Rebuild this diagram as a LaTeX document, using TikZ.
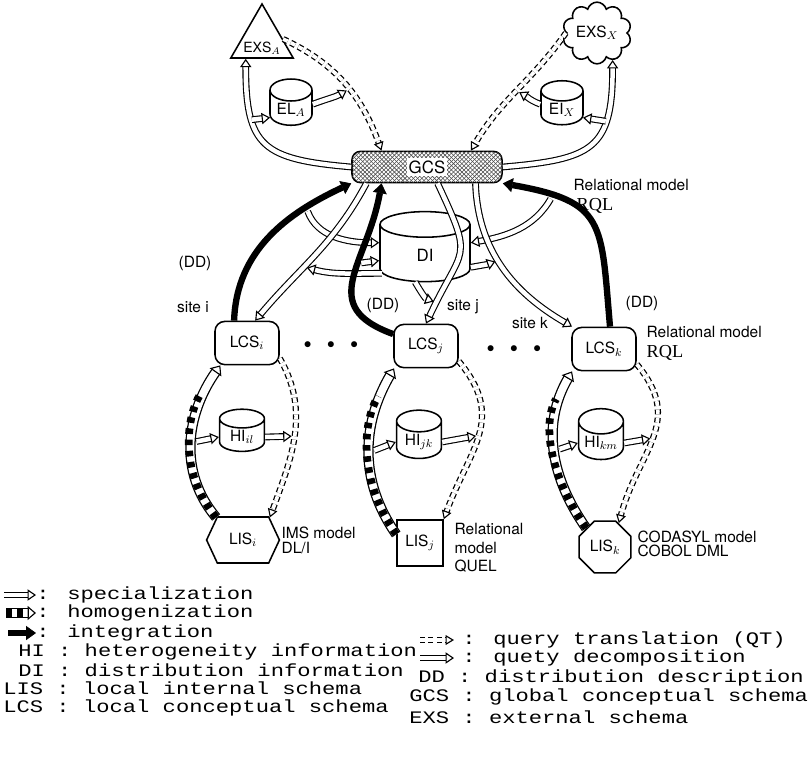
\documentclass[tikz,border=0pt]{standalone}
\usepackage{fontspec}
\usepackage{tikz}
\newfontfamily\lblfont{TeX Gyre Heros}
\newfontfamily\rqlfont{Liberation Serif}
\newfontfamily\lgdfont[FakeStretch=1.26]{Liberation Mono}
\usetikzlibrary{shapes.geometric,shapes.symbols,arrows.meta,calc,patterns,positioning}
\tikzset{SCHEMA/.style={draw,line width=1.1pt,font=\lblfont\fontsize{11}{12}\selectfont,inner sep=1pt}}
\tikzset{LCS/.style={SCHEMA,rectangle,rounded corners=7pt,minimum width=1.6cm,minimum height=1.08cm}}
\tikzset{INFO/.style={SCHEMA,cylinder,shape border rotate=90,aspect=0.7,minimum width=1.12cm,minimum height=1cm}}
\tikzset{SPEC/.style={draw,double,double distance=3.2pt,line width=0.8pt,-{Triangle[open,length=6pt,width=8pt,line width=0.8pt]}}}
\tikzset{QT/.style={draw,double,double distance=2.6pt,line width=0.9pt,dash pattern=on 3.5pt off 2.5pt,-{Triangle[open,length=6pt,width=7pt,line width=0.8pt]}}}
\tikzset{INTEG/.style={draw,line width=4.5pt,-{Triangle[length=7pt,width=10pt,line width=0.5pt]}}}
\tikzset{HOMOG/.style={draw,double,double distance=5.5pt,line width=0.9pt,-{Triangle[open,length=6pt,width=10pt,line width=0.8pt]},postaction={draw,-,line width=5.5pt,dash pattern=on 4pt off 4pt,shorten >=#1}},HOMOG/.default=0.8cm}
\tikzset{LABEL/.style={font=\lblfont\fontsize{11}{12}\selectfont,inner sep=1pt}}
\tikzset{RQL/.style={font=\rqlfont\fontsize{13}{14}\selectfont,inner sep=1pt,anchor=west}}
\tikzset{LEGEND/.style={font=\lgdfont\fontsize{12.5}{13}\selectfont,inner sep=0pt,anchor=west}}

\begin{document}
\begin{tikzpicture}[x=0.025cm,y=-0.025cm]
\useasboundingbox (0,0) rectangle (809,769);

% external level
\node[SCHEMA,regular polygon,regular polygon sides=3,minimum size=1.8cm,inner sep=0pt,label={[name=n_exsA_txt,LABEL,font=\lblfont\fontsize{10}{11}\selectfont,yshift=-6pt]center:EXS$_A$}] (n_exsA) at (262,40) {};
\node[SCHEMA,cloud,cloud puffs=10,aspect=1.2,minimum width=1.65cm,minimum height=1.4cm,inner sep=0pt] (n_exsX) at (597,33) {EXS$_X$};
\node[INFO,minimum width=1.05cm,minimum height=1.08cm] (n_elA) at (291,110) {EL$_A$};
\node[INFO,minimum width=1.05cm,minimum height=1.1cm] (n_eiX) at (562,110) {EI$_X$};

% global level
\node[SCHEMA,rectangle,rounded corners=6pt,minimum width=3.75cm,minimum height=0.78cm,pattern=north east lines,pattern color=black!70,postaction={pattern=north west lines,pattern color=black!70},font=\lblfont\fontsize{12}{13}\selectfont] (n_gcs) at (427,167) {\setlength{\fboxsep}{1.5pt}\colorbox{white}{GCS}};
\node[INFO,aspect=1.3,minimum width=2.25cm,minimum height=1.75cm,font=\lblfont\fontsize{12}{13}\selectfont] (n_di) at (425,255) {DI};
\node[LABEL,anchor=west] (l_rel_g) at (572,185) {Relational model};
\node[RQL] (l_rql_g) at (575,206) {RQL};

% local level
\node[LCS] (n_lcsI) at (247,343) {LCS$_i$};
\node[LCS] (n_lcsJ) at (426,346) {LCS$_j$};
\node[LCS] (n_lcsK) at (604,349) {LCS$_k$};
\node[LABEL] (n_dots_ij) at (331,345) {$\bullet$\quad$\bullet$\quad$\bullet$};
\node[LABEL] (n_dots_jk) at (514,349) {$\bullet$\quad$\bullet$\quad$\bullet$};
\node[INFO] (n_hiI) at (242,437) {HI$_{il}$};
\node[INFO] (n_hiJ) at (419,442) {HI$_{jk}$};
\node[INFO] (n_hiK) at (601,443) {HI$_{km}$};
\node[SCHEMA,signal,signal to=east and west,signal pointer angle=130,minimum width=1.82cm,minimum height=1.15cm] (n_lisI) at (243,540) {LIS$_i$};
\node[SCHEMA,rectangle,minimum size=1.15cm] (n_lisJ) at (420,543) {LIS$_j$};
\node[SCHEMA,regular polygon,regular polygon sides=8,minimum size=1.4cm,inner sep=0pt] (n_lisK) at (605,547) {LIS$_k$};

\node[LABEL] (l_dd_i) at (195,263) {(DD)};
\node[LABEL] (l_site_i) at (193,307) {site i};
\node[LABEL] (l_dd_j) at (383,305) {(DD)};
\node[LABEL] (l_site_j) at (463,307) {site j};
\node[LABEL] (l_site_k) at (530,323) {site k};
\node[LABEL] (l_dd_k) at (642,303) {(DD)};
\node[LABEL,anchor=west] (l_rel_k) at (645,332) {Relational model};
\node[RQL] (l_rql_k) at (645,353) {RQL};
\node[LABEL,anchor=west,align=left,font=\lblfont\fontsize{11}{10.6}\selectfont] (l_ims) at (280,540) {IMS model\\DL/I};
\node[LABEL,anchor=west,align=left,font=\lblfont\fontsize{11}{13}\selectfont] (l_quel) at (453,548) {Relational\\model\\QUEL};
\node[LABEL,anchor=west,align=left,font=\lblfont\fontsize{11}{9.5}\selectfont] (l_codasyl) at (636,544) {CODASYL model\\COBOL DML};

% anchor points
\coordinate (c_exsA_r) at ($(n_exsA.corner 1)!0.65!(n_exsA.corner 3)$);
\coordinate (c_exsA_b) at ($(n_exsA.corner 2)!0.25!(n_exsA.corner 3)$);
\coordinate (c_gcs_t1) at ($(n_gcs.north west)!0.2!(n_gcs.north east)$);
\coordinate (c_gcs_t2) at ($(n_gcs.north west)!0.79!(n_gcs.north east)$);
\coordinate (c_gcs_b1) at ($(n_gcs.south west)!0.1!(n_gcs.south east)$);
\coordinate (c_gcs_b2) at ($(n_gcs.south west)!0.2!(n_gcs.south east)$);
\coordinate (c_gcs_b3) at ($(n_gcs.south west)!0.57!(n_gcs.south east)$);
\coordinate (c_gcs_b4) at ($(n_gcs.south west)!0.82!(n_gcs.south east)$);

% external schemas
\draw[QT] (c_exsA_r) to[out=-25,in=110] coordinate[pos=0.55] (c_qt_a) (c_gcs_t1);
\draw[SPEC] (n_gcs.west) to[out=175,in=-90,looseness=1.5] coordinate[pos=0.7] (c_sp_a) (c_exsA_b);
\draw[SPEC] (c_sp_a) -- (n_elA.200);
\draw[SPEC,shorten >=2pt] (n_elA.15) to[out=20,in=-150] (c_qt_a);

\draw[QT] (n_exsX.west) to[out=-125,in=60] coordinate[pos=0.5] (c_qt_x) (c_gcs_t2);
\draw[SPEC] (n_gcs.east) to[out=5,in=-90,looseness=1.5] coordinate[pos=0.7] (c_sp_x) (n_exsX.-60);
\draw[SPEC] (c_sp_x) -- (n_eiX.-20);
\draw[SPEC,shorten >=2pt] (n_eiX.165) to[out=160,in=-30] (c_qt_x);

% integration and decomposition
\draw[INTEG] (n_lcsI.120) to[out=88,in=-155] coordinate[pos=0.75] (c_dd_i) (n_gcs.south west);
\draw[SPEC,shorten <=3pt] (c_dd_i) to[out=-70,in=180] (n_di.165);
\draw[SPEC] (c_gcs_b1) to[out=-118,in=50] coordinate[pos=0.6] (c_qd_i) (n_lcsI.70);
\draw[SPEC,shorten >=2pt] (n_di.203) to[out=180,in=-15] (c_qd_i);

\draw[INTEG] (n_lcsJ.160) to[out=160,in=-100,looseness=1.4] coordinate[pos=0.6] (c_dd_j) (c_gcs_b2);
\draw[SPEC,shorten <=3pt] (c_dd_j) -- (n_di.187);
\draw[SPEC] (c_gcs_b3) to[out=-65,in=65,looseness=1.6] coordinate[pos=0.9] (c_qd_j) (n_lcsJ.north);
\draw[SPEC,shorten >=2pt] (n_di.-110) to[out=-60,in=160] (c_qd_j);

\draw[INTEG] (n_lcsK.75) to[out=95,in=-10,looseness=1.5] coordinate[pos=0.8] (c_dd_k) (n_gcs.south east);
\draw[SPEC,shorten <=3pt] (c_dd_k) to[out=-120,in=10] (n_di.15);
\draw[SPEC] (c_gcs_b4) to[out=-88,in=150] coordinate[pos=0.45] (c_qd_k) (n_lcsK.145);
\draw[SPEC,shorten >=2pt] (n_di.-15) to[out=10,in=-160] (c_qd_k);

% site i
\draw[HOMOG] (n_lisI.140) to[out=130,in=-125] coordinate[pos=0.5] (c_hg_i) (n_lcsI.-140);
\draw[SPEC,shorten <=4pt] (c_hg_i) -- (n_hiI.west);
\draw[QT] (n_lcsI.-25) to[out=-60,in=70] coordinate[pos=0.5] (c_qt_i) (n_lisI.40);
\draw[SPEC,shorten >=2pt] (n_hiI.east) -- (c_qt_i);

% site j
\draw[HOMOG] (n_lisJ.160) to[out=125,in=-120] coordinate[pos=0.5] (c_hg_j) (n_lcsJ.-145);
\draw[SPEC,shorten <=4pt] (c_hg_j) -- (n_hiJ.west);
\draw[QT] (n_lcsJ.-25) to[out=-50,in=70,looseness=1.2] coordinate[pos=0.5] (c_qt_j) (n_lisJ.north east);
\draw[SPEC,shorten >=2pt] (n_hiJ.east) -- (c_qt_j);

% site k
\draw[HOMOG] (n_lisK.135) to[out=125,in=-120] coordinate[pos=0.5] (c_hg_k) (n_lcsK.-145);
\draw[SPEC,shorten <=4pt] (c_hg_k) -- (n_hiK.west);
\draw[QT] (n_lcsK.-25) to[out=-50,in=75,looseness=1.2] coordinate[pos=0.5] (c_qt_k) (n_lisK.60);
\draw[SPEC,shorten >=2pt] (n_hiK.east) -- (c_qt_k);

% legend
\coordinate (c_lg_sp_a) at (4,595);
\coordinate (c_lg_sp_b) at (36,595);
\draw[SPEC] (c_lg_sp_a) -- (c_lg_sp_b);
\node[LEGEND] (lg_spec) at (c_lg_sp_b) {: specialization};
\coordinate (c_lg_hom_a) at (6,613);
\coordinate (c_lg_hom_b) at (36,613);
\draw[HOMOG=5pt] (c_lg_hom_a) -- (c_lg_hom_b);
\node[LEGEND] (lg_homog) at (c_lg_hom_b) {: homogenization};
\coordinate (c_lg_int_a) at (8,633);
\coordinate (c_lg_int_b) at (36,633);
\draw[INTEG] (c_lg_int_a) -- (c_lg_int_b);
\node[LEGEND] (lg_integ) at (c_lg_int_b) {: integration};
\node[LEGEND] (lg_hi) at (18,652) {HI : heterogeneity information};
\node[LEGEND] (lg_di) at (18,670) {DI : distribution information};
\node[LEGEND] (lg_lis) at (3,688) {LIS : local internal schema};
\node[LEGEND] (lg_lcs) at (3,708) {LCS : local conceptual schema};

\coordinate (c_lg_qt_a) at (420,640);
\coordinate (c_lg_qt_b) at (454,640);
\draw[QT] (c_lg_qt_a) -- (c_lg_qt_b);
\node[LEGEND] (lg_qt) at (462,640) {: query translation (QT)};
\coordinate (c_lg_qd_a) at (420,658);
\coordinate (c_lg_qd_b) at (454,658);
\draw[SPEC] (c_lg_qd_a) -- (c_lg_qd_b);
\node[LEGEND] (lg_qd) at (462,658) {: quety decomposition};
\node[LEGEND] (lg_dd) at (418,678) {DD : distribution description};
\node[LEGEND] (lg_gcs) at (409,697) {GCS : global conceptual schema};
\node[LEGEND] (lg_exs) at (409,717) {EXS : external schema};

\end{tikzpicture}
\end{document}
